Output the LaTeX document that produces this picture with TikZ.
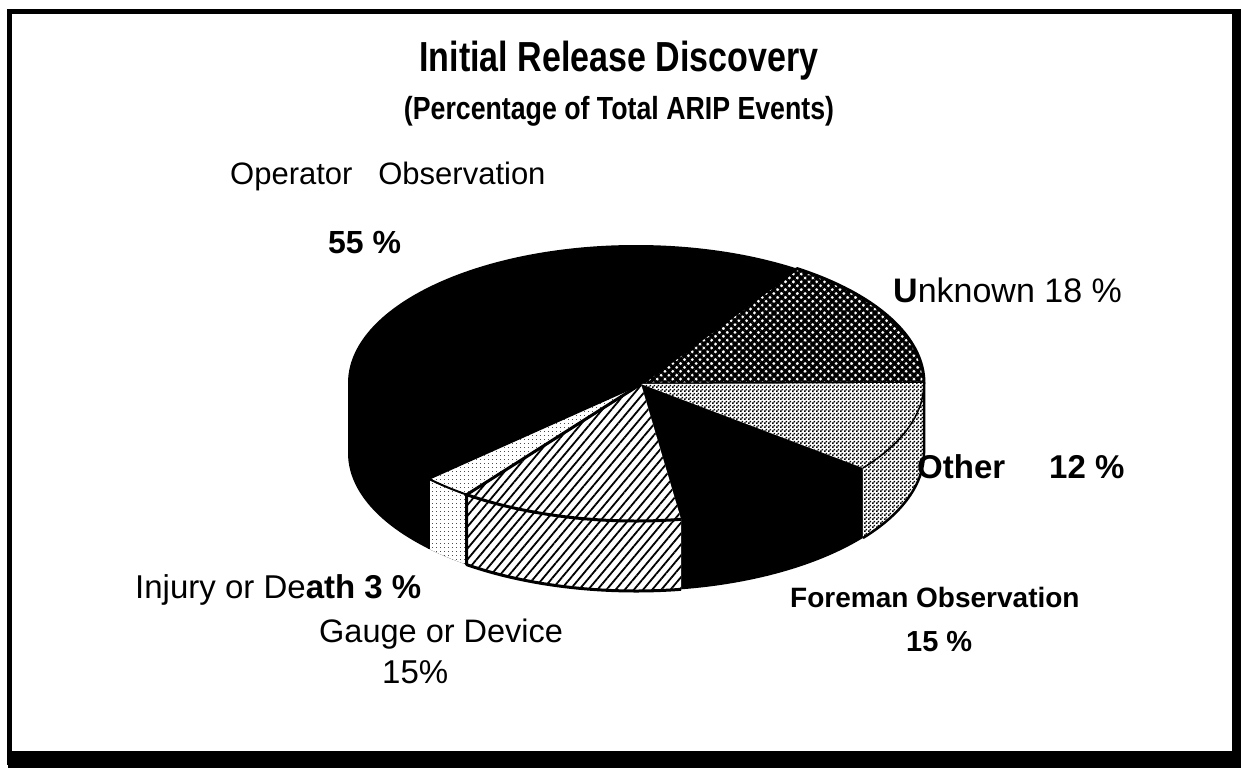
\documentclass[tikz,border=0pt]{standalone}
\usepackage{fontspec}
\setmainfont{Liberation Sans}
\usetikzlibrary{calc,patterns,patterns.meta}

% fine 50% dither
\pgfdeclarepatternformonly{checker}{\pgfqpoint{0pt}{0pt}}{\pgfqpoint{4pt}{4pt}}{\pgfqpoint{4pt}{4pt}}{%
  \pgfpathrectangle{\pgfqpoint{0pt}{0pt}}{\pgfqpoint{2pt}{2pt}}%
  \pgfpathrectangle{\pgfqpoint{2pt}{2pt}}{\pgfqpoint{2pt}{2pt}}%
  \pgfusepath{fill}}
% sparse light stipple
\pgfdeclarepatternformonly{sparse}{\pgfqpoint{0pt}{0pt}}{\pgfqpoint{4pt}{4pt}}{\pgfqpoint{4pt}{4pt}}{%
  \pgfpathrectangle{\pgfqpoint{0pt}{0pt}}{\pgfqpoint{1.2pt}{1.2pt}}%
  \pgfusepath{fill}}

\tikzset{
  lbl/.style={anchor=base west, inner sep=0pt, font=\fontsize{33}{36}\selectfont},
  edge/.style={draw=black, line width=3pt, line join=round},
  hatchA/.style={pattern={Lines[angle=45,distance=5.5pt,line width=3pt]}},
  hatchB/.style={pattern={Lines[angle=-45,distance=5.5pt,line width=3pt]}},
  diag/.style={pattern={Lines[angle=50,distance=7pt,line width=1.8pt]}},
}

\newcommand{\ra}{288}
\newcommand{\rb}{138}
\newcommand{\dep}{70}

\begin{document}
\begin{tikzpicture}[x=1pt,y=1pt]
\useasboundingbox (0,0) rectangle (1241,-768);

% frame
\fill (7,-9) rectangle (1241,-14);
\fill (7,-9) rectangle (12,-765);
\fill (1232,-9) rectangle (1241,-768);
\fill (8,-751) rectangle (1241,-768);

% titles (narrow bold face)
\node[anchor=base, inner sep=0pt, font=\fontsize{42}{48}\selectfont\bfseries] (title) at (619,-71)
  {\scalebox{0.81}[1]{Initial Release Discovery}};
\node[anchor=base, inner sep=0pt, font=\fontsize{32}{38}\selectfont\bfseries] (subtitle) at (619,-119)
  {\scalebox{0.835}[1]{(Percentage of Total ARIP Events)}};

\coordinate (C) at (636,-383);
\coordinate (P) at (641,-384);

% body silhouette, black
\fill[black] ($(C)+(0:\ra\space and \rb)$) arc[start angle=0,end angle=180,x radius=\ra,y radius=\rb]
  -- ++(0,-\dep) arc[start angle=180,end angle=360,x radius=\ra,y radius=\rb] -- cycle;

% Unknown: crosshatch
\fill[white] (P) -- ($(C)+(56:\ra\space and \rb)$) arc[start angle=56,end angle=0,x radius=\ra,y radius=\rb] -- cycle;
\fill[hatchA] (P) -- ($(C)+(56:\ra\space and \rb)$) arc[start angle=56,end angle=0,x radius=\ra,y radius=\rb] -- cycle;
\fill[hatchB] (P) -- ($(C)+(56:\ra\space and \rb)$) arc[start angle=56,end angle=0,x radius=\ra,y radius=\rb] -- cycle;
\draw[edge] (P) -- ($(C)+(56:\ra\space and \rb)$) arc[start angle=56,end angle=0,x radius=\ra,y radius=\rb] -- cycle;

% Other: dither, top and side
\fill[white] (P) -- ($(C)+(0:\ra\space and \rb)$) arc[start angle=0,end angle=-38,x radius=\ra,y radius=\rb] -- cycle;
\fill[pattern=checker] (P) -- ($(C)+(0:\ra\space and \rb)$) arc[start angle=0,end angle=-38,x radius=\ra,y radius=\rb] -- cycle;
\fill[white] ($(C)+(0:\ra\space and \rb)$) arc[start angle=0,end angle=-38,x radius=\ra,y radius=\rb]
  -- ++(0,-\dep) arc[start angle=-38,end angle=0,x radius=\ra,y radius=\rb] -- cycle;
\fill[pattern=checker] ($(C)+(0:\ra\space and \rb)$) arc[start angle=0,end angle=-38,x radius=\ra,y radius=\rb]
  -- ++(0,-\dep) arc[start angle=-38,end angle=0,x radius=\ra,y radius=\rb] -- cycle;
\draw[line width=1.5pt] ($(C)+(0:\ra\space and \rb)$) arc[start angle=0,end angle=-38,x radius=\ra,y radius=\rb];
\draw[line width=2.5pt] ($(C)+(0:\ra\space and \rb)$) -- ++(0,-\dep) arc[start angle=0,end angle=-38,x radius=\ra,y radius=\rb];

% Injury or Death: light stipple
\fill[white] (P) -- ($(C)+(-126:\ra\space and \rb)$) arc[start angle=-126,end angle=-136,x radius=\ra,y radius=\rb] -- cycle;
\fill[pattern=sparse, pattern color=black!70] (P) -- ($(C)+(-126:\ra\space and \rb)$) arc[start angle=-126,end angle=-136,x radius=\ra,y radius=\rb] -- cycle;
\fill[white] ($(C)+(-136:\ra\space and \rb)$) arc[start angle=-136,end angle=-126,x radius=\ra,y radius=\rb]
  -- ++(0,-\dep) arc[start angle=-126,end angle=-136,x radius=\ra,y radius=\rb] -- cycle;
\fill[pattern=sparse, pattern color=black!70] ($(C)+(-136:\ra\space and \rb)$) arc[start angle=-136,end angle=-126,x radius=\ra,y radius=\rb]
  -- ++(0,-\dep) arc[start angle=-126,end angle=-136,x radius=\ra,y radius=\rb] -- cycle;
\draw[line width=2pt] (P) -- ($(C)+(-136:\ra\space and \rb)$) -- ++(0,-\dep);
\draw[line width=2pt] ($(C)+(-136:\ra\space and \rb)$) arc[start angle=-136,end angle=-126,x radius=\ra,y radius=\rb];

% Gauge or Device: diagonal hatch, pulled out
\begin{scope}[shift={(-10,-5)}]
\fill[white] (P) -- ($(C)+(-81:\ra\space and \rb)$) arc[start angle=-81,end angle=-126,x radius=\ra,y radius=\rb] -- cycle;
\fill[diag] (P) -- ($(C)+(-81:\ra\space and \rb)$) arc[start angle=-81,end angle=-126,x radius=\ra,y radius=\rb] -- cycle;
\fill[white] ($(C)+(-126:\ra\space and \rb)$) arc[start angle=-126,end angle=-81,x radius=\ra,y radius=\rb]
  -- ++(0,-\dep) arc[start angle=-81,end angle=-126,x radius=\ra,y radius=\rb] -- cycle;
\fill[diag] ($(C)+(-126:\ra\space and \rb)$) arc[start angle=-126,end angle=-81,x radius=\ra,y radius=\rb]
  -- ++(0,-\dep) arc[start angle=-81,end angle=-126,x radius=\ra,y radius=\rb] -- cycle;
\draw[edge] (P) -- ($(C)+(-126:\ra\space and \rb)$) -- ++(0,-\dep)
  arc[start angle=-126,end angle=-81,x radius=\ra,y radius=\rb];
\draw[edge] ($(C)+(-126:\ra\space and \rb)$) arc[start angle=-126,end angle=-81,x radius=\ra,y radius=\rb];
\end{scope}

% labels
\node[lbl, font=\fontsize{31}{36}\selectfont] (op) at (230,-184) {Operator\ \ \ Observation};
\node[lbl, font=\fontsize{32}{36}\selectfont\bfseries] (opv) at (328,-253) {55 \%};
\node[lbl, font=\fontsize{34}{38}\selectfont] (unk) at (893,-302) {\textbf{U}nknown 18 \%};
\node[lbl, font=\fontsize{33}{36}\selectfont\bfseries] (oth) at (917,-478) {Other\hspace{44pt}12 \%};
\node[lbl] (inj) at (135,-598) {Injury or De\textbf{ath 3 \%}};
\node[lbl, font=\fontsize{32.5}{36}\selectfont] (gau) at (319,-642) {Gauge or Device};
\node[lbl] (gauv) at (382,-683) {15\%};
\node[lbl, font=\fontsize{28}{34}\selectfont\bfseries] (for) at (790,-607) {Foreman Observation};
\node[lbl, font=\fontsize{29}{34}\selectfont\bfseries] (forv) at (906,-651) {15 \%};
\end{tikzpicture}
\end{document}
